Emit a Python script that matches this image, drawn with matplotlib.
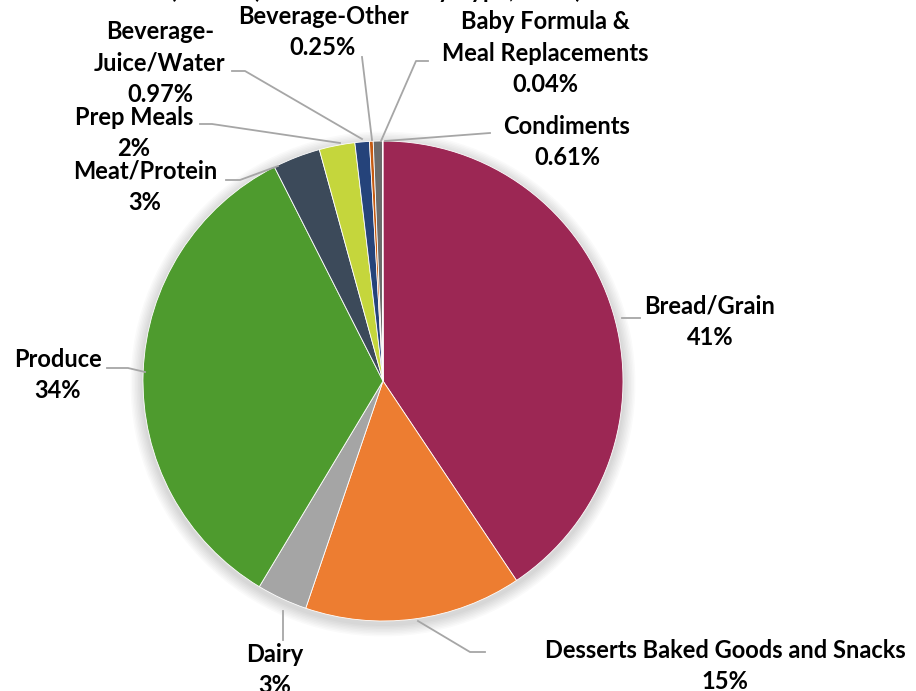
import matplotlib.pyplot as plt
from matplotlib.patches import Circle

categories = ["Bread/Grain", "Desserts Baked Goods and Snacks", "Dairy", "Produce",
              "Meat/Protein", "Prep Meals", "Beverage-\nJuice/Water", "Beverage-Other",
              "Condiments", "Baby Formula &\nMeal Replacements"]
shares = [40.6, 14.6, 3.4, 33.9, 3.2, 2.4, 0.97, 0.25, 0.61, 0.04]
colors = ["#9C2754", "#ED7D31", "#A5A5A5", "#4E9B2E", "#3C4A5A",
          "#C5D63C", "#25437A", "#C55A11", "#6B6B6B", "#A08A1C"]

# label anchor (text centre, pixel coords from top-left) and leader line points
label_pos = [(710, 322), (725, 666), (275, 670), (58, 375), (145, 187),
             (134, 133), (160, 63), (323, 32), (567, 142), (545, 53)]
leaders = [
    [(622, 318), (640, 318)],
    [(418, 621), (470, 652), (485, 652)],
    [(283, 611), (283, 640)],
    [(145, 372), (128, 368), (107, 368)],
    [(278, 166), (240, 180), (226, 180)],
    [(340, 143), (212, 124), (200, 124)],
    [(362, 139), (245, 71), (232, 71)],
    [(372, 140), (362, 57)],
    [(385, 141), (490, 133)],
    [(381, 141), (416, 61), (428, 61)],
]

W, H = 916, 691
CX, CY, R = 383, 381, 240

plt.rcParams['font.family'] = ['Lato', 'DejaVu Sans']

fig = plt.figure(figsize=(W / 100, H / 100), dpi=100)
ax = fig.add_axes([0, 0, 1, 1])

# soft shadow behind the pie
for i in range(8):
    ax.add_patch(Circle((CX, CY + 3), R + 2 + i * 1.5, color='black',
                        alpha=0.018, lw=0, zorder=0))

# y axis gets inverted below, so start at -90 and run counterclockwise in data
# coordinates: on screen this begins at 12 o'clock and goes clockwise
ax.pie(shares, colors=colors, startangle=-90, counterclock=True,
       center=(CX, CY), radius=R, frame=True,
       wedgeprops=dict(linewidth=0.6, edgecolor='white'))
ax.set_xlim(0, W)
ax.set_ylim(H, 0)
ax.set_aspect('equal')
ax.axis('off')


def fmt(v):
    return f"{round(v)}%" if v >= 1 else f"{v:.2f}%"


for name, v, (tx, ty), pts in zip(categories, shares, label_pos, leaders):
    xs, ys = zip(*pts)
    ax.plot(xs, ys, color='#A6A6A6', lw=1.3, zorder=1)
    ax.text(tx, ty, name + "\n" + fmt(v), ha='center', va='center',
            fontsize=17, fontweight='bold', linespacing=1.45, color='black')

# second title line, mostly above the visible area
ax.text(376, -10, "(Pounds) Food Donated by Type, 2019)", ha='center',
        va='center', fontsize=17, fontweight='bold', color='black', clip_on=False)

fig.savefig("out.png", dpi=100, facecolor='white')
